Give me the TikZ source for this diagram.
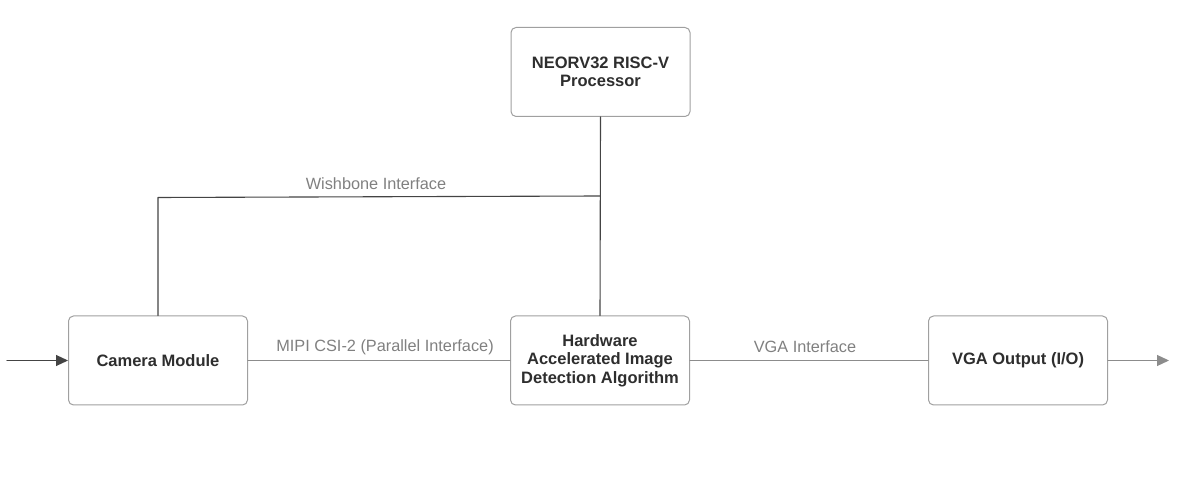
\documentclass[tikz,border=0pt]{standalone}
\usepackage{fontspec}
\setmainfont{Liberation Sans}
\usetikzlibrary{arrows.meta}
\definecolor{boxline}{HTML}{A0A0A0}
\definecolor{boxtext}{HTML}{2E2E2E}
\definecolor{wiregray}{HTML}{8C8C8C}
\definecolor{wiredark}{HTML}{444444}
\definecolor{labelgray}{HTML}{808080}
\tikzset{
	block/.style={draw=boxline,line width=1pt,rounded corners=5pt,fill=white,
		minimum width=179pt,minimum height=89pt,align=center,text=boxtext,
		font=\fontsize{16.5}{18.5}\selectfont\bfseries},
	wire/.style={draw=wiregray,line width=1.1pt},
	darkwire/.style={draw=wiredark,line width=1.1pt},
	tip/.style={-{Triangle[length=12pt,width=11pt]}},
	buslabel/.style={text=labelgray,font=\fontsize{16.3}{18}\selectfont}
}
\begin{document}
\begin{tikzpicture}[line cap=round,line join=round,x=1pt,y=1pt]
				\useasboundingbox (0,0) rectangle (1190,484);
				\node[block] (proc) at (600.5,412) {NEORV32 RISC-V\\Processor};
				\node[block] (cam) at (158,123.5) {Camera Module};
				\node[block] (hw) at (600,123.5) {Hardware\\Accelerated Image\\Detection Algorithm};
				\node[block] (vga) at (1018,123.5) {VGA Output (I/O)};
				\coordinate (in) at (7,123.5);
				\coordinate (out) at (1169,123.5);
				\coordinate (wbR) at (600,288);
				\coordinate (wbL) at (158,286.5);
				\draw [darkwire,tip] (in) -- (cam.west);
				\draw [wire] (cam.east) -- (hw.west);
				\draw [wire] (hw.east) -- (vga.west);
				\draw [wire,tip] (vga.east) -- (out);
				\draw [darkwire] (proc.south) -- (hw.north);
				\draw [darkwire] (wbR) -- (wbL) -- (cam.north);
				\node[buslabel] (wblabel) at (376,300) {Wishbone Interface};
				\node[buslabel] (mipilabel) at (385,137) {MIPI CSI-2 (Parallel Interface)};
				\node[buslabel] (vgalabel) at (805,137) {VGA Interface};
			\end{tikzpicture}
\end{document}
